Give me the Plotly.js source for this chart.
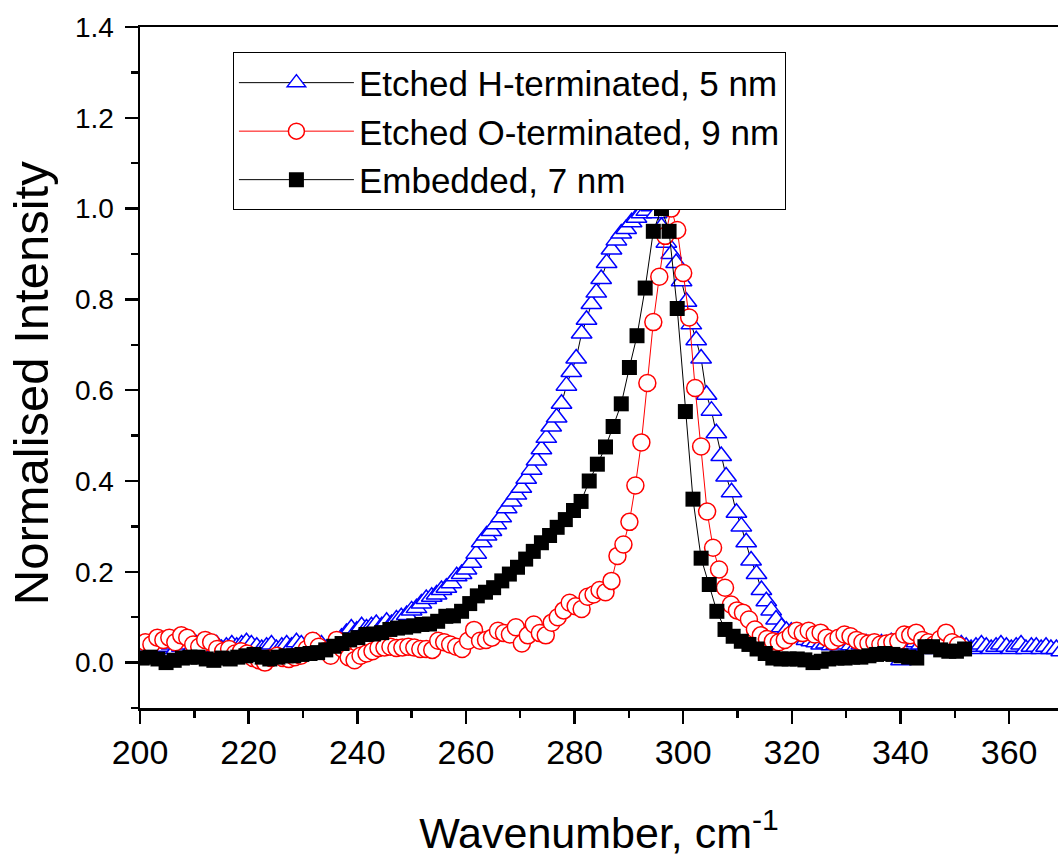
<!DOCTYPE html>
<html>
<head>
<meta charset="utf-8">
<script src="https://cdn.plot.ly/plotly-3.0.1.min.js"></script>
<style>html,body{margin:0;padding:0;background:#fff}#chart{width:1058px;height:861px}</style>
</head>
<body>
<div id="chart"></div>
<script>
// Etched H-terminated, 5 nm
const hX = [
200.3,201.2,202.1,203.1,204.0,204.9,205.8,206.7,207.7,208.6,
209.5,210.4,211.3,212.3,213.2,214.1,215.0,215.9,216.9,217.8,
218.7,219.6,220.5,221.5,222.4,223.3,224.2,225.1,226.1,227.0,
227.9,228.8,229.7,230.7,231.6,232.5,233.4,234.3,235.3,236.2,
237.1,238.0,238.9,239.9,240.8,241.7,242.6,243.5,244.5,245.4,
246.3,247.2,248.1,249.1,250.0,250.9,251.8,252.7,253.7,254.6,
255.5,256.4,257.3,258.3,259.2,260.1,261.0,261.9,262.9,263.8,
264.7,265.6,266.5,267.5,268.4,269.3,270.2,271.1,272.1,273.0,
273.9,274.8,275.7,276.7,277.6,278.5,279.4,280.3,281.3,282.2,
283.1,284.0,284.9,285.9,286.8,287.7,288.6,289.5,290.5,291.4,
292.3,293.2,294.1,295.1,296.0,296.9,297.8,298.7,299.7,300.6,
301.5,302.4,303.3,304.3,305.2,306.1,307.0,307.9,308.9,309.8,
310.7,311.6,312.5,313.5,314.4,315.3,316.2,317.1,318.1,319.0,
319.9,320.8,321.7,322.7,323.6,324.5,325.4,326.3,327.3,328.2,
329.1,330.0,330.9,331.9,332.8,333.7,334.6,335.5,336.5,337.4,
338.3,339.2,340.1,341.1,342.0,342.9,343.8,344.7,345.7,346.6,
347.5,348.4,349.3,350.3,351.2,352.1,353.0,353.9,354.9,355.8,
356.7,357.6,358.5,359.5,360.4,361.3,362.2,363.1,364.1,365.0,
365.9,366.8,367.7,368.7,369.6
];
const hY = [
0.040,0.035,0.045,0.040,0.030,0.035,0.040,0.030,0.035,0.040,
0.030,0.040,0.035,0.030,0.035,0.040,0.030,0.035,0.040,0.035,
0.040,0.045,0.040,0.035,0.030,0.035,0.040,0.030,0.035,0.040,
0.035,0.045,0.040,0.035,0.040,0.045,0.040,0.030,0.035,0.045,
0.055,0.065,0.075,0.070,0.080,0.075,0.080,0.085,0.080,0.090,
0.085,0.095,0.100,0.105,0.115,0.120,0.130,0.140,0.145,0.150,
0.160,0.165,0.175,0.190,0.195,0.205,0.220,0.240,0.265,0.280,
0.290,0.305,0.320,0.340,0.355,0.370,0.385,0.405,0.425,0.445,
0.470,0.495,0.520,0.540,0.570,0.610,0.640,0.670,0.725,0.755,
0.790,0.815,0.845,0.880,0.910,0.930,0.945,0.955,0.970,0.980,
0.990,0.995,1.005,0.990,0.960,0.925,0.900,0.880,0.840,0.795,
0.745,0.710,0.670,0.590,0.555,0.505,0.455,0.410,0.375,0.330,
0.300,0.265,0.225,0.195,0.160,0.135,0.115,0.095,0.078,0.070,
0.068,0.062,0.058,0.050,0.047,0.045,0.040,0.042,0.038,0.040,
0.035,0.040,0.038,0.035,0.040,0.042,0.035,0.038,0.042,0.040,
0.045,0.035,0.005,0.035,0.040,0.045,0.040,0.035,0.030,0.035,
0.040,0.035,0.030,0.035,0.040,0.035,0.030,0.035,0.040,0.035,
0.030,0.035,0.040,0.035,0.030,0.035,0.040,0.030,0.035,0.035,
0.030,0.035,0.030,0.030,0.025
];

// Etched O-terminated, 9 nm
const oX = [
201.0,202.1,203.2,204.3,205.4,206.5,207.6,208.7,209.8,210.9,
212.0,213.1,214.2,215.3,216.4,217.5,218.6,219.7,220.8,221.9,
223.0,224.1,225.2,226.3,227.4,228.5,229.6,230.7,231.8,232.9,
234.0,235.1,236.2,237.3,238.4,239.5,240.6,241.7,242.8,243.9,
245.0,246.1,247.2,248.3,249.4,250.5,251.6,252.7,253.8,254.9,
256.0,257.1,258.2,259.3,260.4,261.5,262.6,263.7,264.8,265.9,
267.0,268.1,269.2,270.3,271.4,272.5,273.6,274.7,275.8,276.9,
278.0,279.1,280.2,281.3,282.4,283.5,284.6,285.7,286.8,287.9,
289.0,290.1,291.2,292.3,293.4,294.5,295.6,296.7,297.8,298.9,
300.0,301.1,302.2,303.3,304.4,305.5,306.6,307.7,308.8,309.9,
311.0,312.1,313.2,314.3,315.4,316.5,317.6,318.7,319.8,320.9,
322.0,323.1,324.2,325.3,326.4,327.5,328.6,329.7,330.8,331.9,
333.0,334.1,335.2,336.3,337.4,338.5,339.6,340.7,341.8,342.9,
344.0,345.1,346.2,347.3,348.4,349.5,350.6
];
const oY = [
0.045,0.040,0.055,0.050,0.055,0.045,0.060,0.055,0.040,0.035,
0.050,0.045,0.030,0.025,0.030,0.020,0.025,0.020,0.010,0.005,
0.000,0.010,0.015,0.010,0.008,0.012,0.015,0.030,0.048,0.035,
0.025,0.015,0.050,0.030,0.012,0.005,0.015,0.020,0.025,0.032,
0.033,0.035,0.032,0.033,0.035,0.033,0.030,0.030,0.028,0.048,
0.045,0.040,0.035,0.030,0.048,0.072,0.048,0.050,0.055,0.070,
0.065,0.062,0.078,0.042,0.060,0.084,0.065,0.060,0.088,0.100,
0.115,0.132,0.124,0.118,0.145,0.150,0.160,0.155,0.180,0.235,
0.260,0.310,0.390,0.485,0.616,0.750,0.850,0.940,1.000,0.953,
0.858,0.760,0.605,0.476,0.333,0.253,0.205,0.165,0.128,0.115,
0.110,0.095,0.073,0.060,0.052,0.047,0.045,0.050,0.060,0.070,
0.065,0.070,0.062,0.066,0.055,0.047,0.055,0.062,0.058,0.050,
0.045,0.042,0.045,0.040,0.042,0.045,0.047,0.062,0.060,0.066,
0.050,0.045,0.040,0.052,0.066,0.045,0.038
];

// Embedded, 7 nm
const eX = [
200.4,201.9,203.3,204.8,206.3,207.8,209.2,210.7,212.2,213.6,
215.1,216.6,218.0,219.5,221.0,222.5,223.9,225.4,226.9,228.3,
229.8,231.3,232.7,234.2,235.7,237.2,238.6,240.1,241.6,243.0,
244.5,246.0,247.4,248.9,250.4,251.9,253.3,254.8,256.3,257.7,
259.2,260.7,262.1,263.6,265.1,266.6,268.0,269.5,271.0,272.4,
273.9,275.4,276.8,278.3,279.8,281.2,282.7,284.2,285.7,287.1,
288.6,290.1,291.5,293.0,294.5,296.0,297.4,298.9,300.4,301.8,
303.3,304.8,306.2,307.7,309.2,310.7,312.1,313.6,315.1,316.5,
318.0,319.5,321.0,322.4,323.9,325.4,326.8,328.3,329.8,331.2,
332.7,334.2,335.6,337.1,338.6,340.1,341.5,343.0,344.5,345.9,
347.4,348.9,350.3,351.8
];
const eY = [
0.010,0.012,0.008,0.000,0.005,0.010,0.012,0.012,0.008,0.005,
0.010,0.008,0.012,0.015,0.018,0.012,0.008,0.012,0.015,0.015,
0.018,0.020,0.022,0.028,0.036,0.042,0.050,0.055,0.062,0.063,
0.066,0.073,0.076,0.078,0.081,0.084,0.085,0.091,0.102,0.103,
0.113,0.130,0.147,0.155,0.165,0.180,0.195,0.210,0.228,0.245,
0.264,0.280,0.298,0.315,0.335,0.355,0.400,0.437,0.475,0.520,
0.570,0.650,0.720,0.825,0.950,1.000,0.950,0.780,0.553,0.360,
0.230,0.172,0.113,0.073,0.058,0.047,0.040,0.030,0.020,0.010,
0.008,0.008,0.008,0.006,0.000,0.003,0.008,0.010,0.010,0.012,
0.012,0.015,0.018,0.020,0.018,0.015,0.012,0.010,0.035,0.035,
0.028,0.025,0.025,0.030
];

const seriesNames = ['Etched H-terminated, 5 nm', 'Etched O-terminated, 9 nm', 'Embedded, 7 nm'];
const xTicks = [200, 220, 240, 260, 280, 300, 320, 340, 360];
const yTicks = [0.0, 0.2, 0.4, 0.6, 0.8, 1.0, 1.2, 1.4];
const xTitle = 'Wavenumber, cm<sup>-1</sup>';
const yTitle = 'Normalised Intensity';

const FONT = 'Liberation Sans, Arial, Helvetica, sans-serif';

const traces = [
  {
    x: hX, y: hY, name: seriesNames[0], type: 'scatter', mode: 'lines+markers',
    line: {color: '#000000', width: 1},
    marker: {symbol: 'triangle-up', size: 18, color: '#ffffff', line: {color: '#0000ff', width: 1.5}}
  },
  {
    x: oX, y: oY, name: seriesNames[1], type: 'scatter', mode: 'lines+markers',
    line: {color: '#ff0000', width: 1},
    marker: {symbol: 'circle', size: 17, color: '#ffffff', line: {color: '#ff0000', width: 1.5}}
  },
  {
    x: eX, y: eY, name: seriesNames[2], type: 'scatter', mode: 'lines+markers',
    line: {color: '#000000', width: 1},
    marker: {symbol: 'square', size: 15, color: '#000000', line: {color: '#000000', width: 0}}
  }
];

const axisCommon = {
  showgrid: false, zeroline: false, showline: true, linecolor: '#000', linewidth: 2.5,
  ticks: 'outside', ticklen: 13, tickwidth: 2.5, tickcolor: '#000'
};

const layout = {
  width: 1058, height: 861,
  margin: {l: 140, r: 0, t: 27, b: 153, pad: 0},
  paper_bgcolor: '#fff', plot_bgcolor: '#fff',
  font: {family: FONT, color: '#000'},
  showlegend: true,
  legend: {
    x: 0.101, y: 0.963, xanchor: 'left', yanchor: 'top',
    bgcolor: '#fff', bordercolor: '#000', borderwidth: 1.2,
    font: {family: FONT, size: 35, color: '#000'},
    itemwidth: 115
  },
  xaxis: Object.assign({}, axisCommon, {
    range: [200, 369], tickmode: 'array', tickvals: xTicks, ticktext: xTicks.map(String),
    tickfont: {family: FONT, size: 34}, mirror: true,
    minor: {ticks: 'outside', dtick: 10, tick0: 200, ticklen: 7, tickwidth: 2.5, tickcolor: '#000', showgrid: false},
    title: {text: xTitle, font: {family: FONT, size: 43}, standoff: 48}
  }),
  yaxis: Object.assign({}, axisCommon, {
    range: [-0.1, 1.4], tickmode: 'array', tickvals: yTicks, ticktext: yTicks.map(v => v.toFixed(1)),
    tickfont: {family: FONT, size: 28}, mirror: false, ticklabelstandoff: 5,
    minor: {ticks: 'outside', dtick: 0.1, tick0: -0.1, ticklen: 7, tickwidth: 2.5, tickcolor: '#000', showgrid: false}
  }),
  annotations: [{
    text: yTitle, xref: 'paper', yref: 'paper', x: -0.1187, y: 0.477,
    xanchor: 'center', yanchor: 'middle', textangle: -90, showarrow: false,
    font: {family: FONT, size: 49, color: '#000'}
  }]
};

Plotly.newPlot('chart', traces, layout, {displayModeBar: false, staticPlot: true});
</script>
</body>
</html>
